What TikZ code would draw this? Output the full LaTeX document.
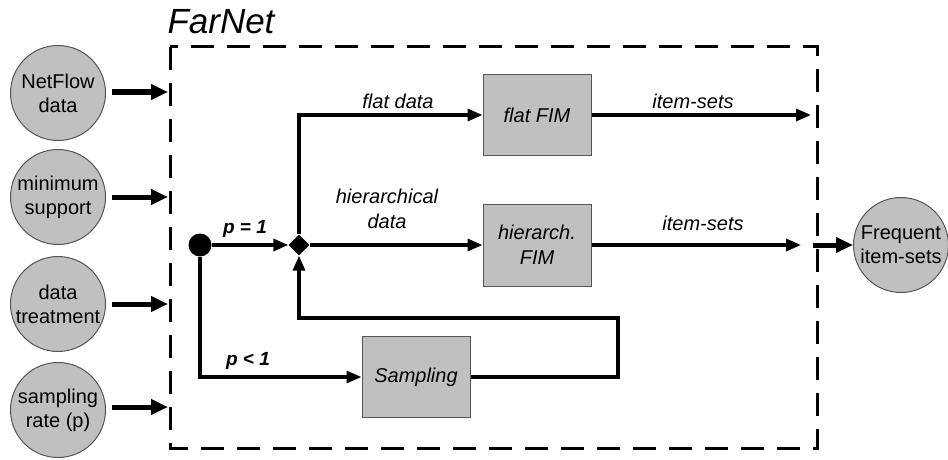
\documentclass[tikz,border=0pt]{standalone}
\usepackage{fontspec}
\setmainfont{Liberation Sans}
\usetikzlibrary{arrows.meta,shapes.geometric,calc}
\definecolor{fillgray}{HTML}{C0C0C0}
\definecolor{edgegray}{HTML}{555555}
\tikzset{
  inputcirc/.style={circle,draw=edgegray,line width=1pt,fill=fillgray,minimum size=95pt,inner sep=0pt,align=center,font=\fontsize{20}{24}\selectfont},
  procbox/.style={rectangle,draw=edgegray,line width=1pt,fill=fillgray,minimum width=108pt,minimum height=81pt,inner sep=0pt,align=center,font=\fontsize{20}{25}\selectfont\itshape},
  conn/.style={line width=3.3pt,-{Triangle[length=15pt,width=12pt]}},
  thickconn/.style={line width=5pt,-{Triangle[length=17pt,width=15pt]}},
  lbl/.style={font=\fontsize{20}{25}\selectfont\itshape,align=center,inner sep=0pt},
  plbl/.style={font=\fontsize{19}{22}\selectfont\bfseries\itshape,inner sep=0pt},
  dashbox/.style={line width=3pt,dash pattern=on 23pt off 13pt}
}
\begin{document}
\begin{tikzpicture}[x=1pt,y=-1pt]
\useasboundingbox (0,0) rectangle (948,460);
% frame
\draw[dashbox] (170,47) rectangle (817,448);
\node[font=\fontsize{35}{40}\selectfont\itshape,inner sep=0pt] (title) at (221,22) {FarNet};
% input circles
\node[inputcirc] (c1) at (58,93) {NetFlow\\data};
\node[inputcirc] (c2) at (58,197) {minimum\\support};
\node[inputcirc] (c3) at (58,304) {data\\treatment};
\node[inputcirc] (c4) at (58,410) {sampling\\rate (p)};
\coordinate (in1) at (168,92);
\coordinate (in2) at (168,197);
\coordinate (in3) at (168,304);
\coordinate (in4) at (168,407);
\draw[thickconn,shorten <=6pt] (c1.east |- in1) -- (in1);
\draw[thickconn,shorten <=6pt] (c2.east |- in2) -- (in2);
\draw[thickconn,shorten <=6pt] (c3.east |- in3) -- (in3);
\draw[thickconn,shorten <=6pt] (c4.east |- in4) -- (in4);
% inner nodes
\node[circle,fill=black,minimum size=23pt,inner sep=0pt] (dot) at (200,245) {};
\node[diamond,fill=black,minimum width=21pt,minimum height=21pt,inner sep=0pt] (dm) at (299,245) {};
\node[procbox] (flat) at (537,115) {flat FIM};
\node[procbox,minimum height=82pt] (hier) at (537,245) {hierarch.\\FIM};
\node[procbox] (samp) at (416,377) {Sampling};
\node[circle,draw=edgegray,line width=1pt,fill=fillgray,minimum size=95pt,inner sep=0pt,align=center,font=\fontsize{20}{24}\selectfont] (cf) at (901,245) {Frequent\\item-sets};
% connectors
\draw[conn] (dot) -- (dm.west);
\draw[conn] (dot) |- (samp.west);
\draw[conn] (dm.north) |- (flat.west);
\draw[conn] (dm.east) -- (hier.west);
\coordinate (outtop) at (811,115);
\coordinate (outmid) at (801,245);
\draw[conn] (flat.east) -- (outtop);
\draw[conn] (hier.east) -- (outmid);
\coordinate (fbr) at (618,318);
\draw[conn] (samp.east) -| (fbr) -| (dm.south);
\coordinate (exits) at (813,245);
\draw[thickconn] (exits) -- (cf.west);
% labels
\node[plbl] (lp1) at (245,229) {p = 1};
\node[plbl] (lp2) at (248,361) {p < 1};
\node[lbl] (lflat) at (398,101) {flat data};
\node[lbl] (lhier) at (387,209) {hierarchical\\data};
\node[lbl] (lit1) at (693,101) {item-sets};
\node[lbl] (lit2) at (703,223) {item-sets};
\end{tikzpicture}
\end{document}
